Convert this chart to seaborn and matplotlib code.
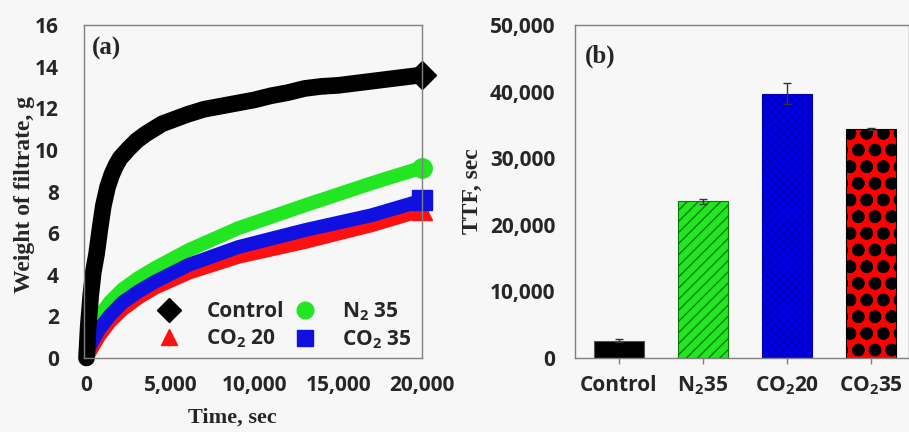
import numpy as np
import pandas as pd
import matplotlib
matplotlib.use("Agg")
import matplotlib.pyplot as plt
import seaborn as sns
from matplotlib.lines import Line2D
from matplotlib.ticker import FuncFormatter

# ---------------- data ----------------
control_t = [0, 100, 250, 400, 600, 800, 1000, 1250, 1500, 1750, 2000, 2500,
             3000, 3500, 4000, 4500, 5000, 6000, 7000, 8000, 9000, 10000,
             11000, 12000, 13000, 14000, 15000, 16000, 17000, 18000, 19000, 20000]
control_w = [0.0, 1.5, 3.0, 4.1, 5.0, 6.2, 7.3, 8.2, 8.8, 9.25, 9.6, 10.05,
             10.45, 10.75, 11.0, 11.25, 11.4, 11.7, 11.95, 12.1, 12.25, 12.4,
             12.6, 12.75, 12.95, 13.05, 13.1, 13.2, 13.3, 13.4, 13.5, 13.6]

n2_t = [0, 350, 750, 1400, 2150, 3100, 4100, 6100, 9050, 13000, 17000, 20000]
n2_w = [0.3, 1.3, 2.0, 2.7, 3.3, 3.85, 4.33, 5.19, 6.24, 7.33, 8.4, 9.15]

co2_20_t = [0, 350, 750, 1400, 2150, 3100, 4100, 6100, 9050, 13000, 17000, 20000]
co2_20_w = [0.0, 0.5, 1.05, 1.75, 2.33, 2.9, 3.38, 4.1, 4.86, 5.57, 6.38, 7.1]

co2_35_t = [0, 350, 750, 1400, 2150, 3100, 4100, 6100, 9050, 13000, 17000, 20000]
co2_35_w = [0.2, 0.8, 1.38, 2.05, 2.67, 3.2, 3.67, 4.48, 5.33, 6.14, 6.86, 7.57]

bar_labels = ["Control", "N$_2$35", "CO$_2$20", "CO$_2$35"]
ttf_values = [2600, 23500, 39700, 34400]
ttf_errors = [250, 400, 1600, 200]

x_ticks_a = [0, 5000, 10000, 15000, 20000]
y_ticks_a = [0, 2, 4, 6, 8, 10, 12, 14, 16]
y_ticks_b = [0, 10000, 20000, 30000, 40000, 50000]

# ---------------- styling ----------------
sns.set_theme(style="white")
bg = "#f7f7f7"
plt.rcParams["font.family"] = ["Open Sans", "DejaVu Sans"]
plt.rcParams["mathtext.fontset"] = "custom"
plt.rcParams["mathtext.rm"] = "Open Sans:bold"
plt.rcParams["mathtext.default"] = "rm"

fig = plt.figure(figsize=(9.09, 4.32), dpi=100, facecolor=bg)
axA = fig.add_axes([84/909, 1-358/432, (422-84)/909, (358-25)/432])
axB = fig.add_axes([575/909, 1-358/432, (909-575)/909, (358-25)/432])
for ax in (axA, axB):
    ax.set_facecolor(bg)
    for s in ax.spines.values():
        s.set_color("#808080")
        s.set_linewidth(1.0)

serif = dict(fontfamily="Liberation Serif", fontweight="bold")

# ---------------- panel (a) ----------------
colors = {"Control": "black", "N$_2$ 35": "#22e622",
          "CO$_2$ 20": "#ff1010", "CO$_2$ 35": "#1010e0"}
markers = {"Control": "D", "N$_2$ 35": "o", "CO$_2$ 20": "^", "CO$_2$ 35": "s"}
frames = []
for name, t, w in [("Control", control_t, control_w),
                   ("CO$_2$ 20", co2_20_t, co2_20_w),
                   ("CO$_2$ 35", co2_35_t, co2_35_w),
                   ("N$_2$ 35", n2_t, n2_w)]:
    frames.append(pd.DataFrame({"time": t, "weight": w, "series": name}))
df = pd.concat(frames, ignore_index=True)

order = ["N$_2$ 35", "CO$_2$ 20", "CO$_2$ 35", "Control"]
for name in order:
    sub = df[df.series == name]
    lw = 12 if name == "Control" else 10
    sns.lineplot(data=sub, x="time", y="weight", ax=axA, color=colors[name],
                 linewidth=lw, sort=False, legend=False, solid_capstyle="round",
                 solid_joinstyle="round", clip_on=False, estimator=None)
    last = sub.iloc[[-1]]
    axA.plot(last.time, last.weight, marker=markers[name], color=colors[name],
             markersize=14, linestyle="none", clip_on=False)

axA.set_xlim(-150, 20000)
axA.set_ylim(0, 16)
axA.set_xticks(x_ticks_a)
axA.set_yticks(y_ticks_a)
axA.xaxis.set_major_formatter(FuncFormatter(lambda v, p: f"{int(v):,}"))
axA.tick_params(axis="both", length=0, labelsize=15)
axA.tick_params(axis="x", pad=12)
axA.tick_params(axis="y", pad=18)
for lab in axA.get_xticklabels() + axA.get_yticklabels():
    lab.set_fontweight("bold")
axA.set_xlabel("Time, sec", fontsize=16, **serif)
axA.xaxis.set_label_coords(0.44, -0.148)
axA.xaxis.label.set_va("top")
axA.set_ylabel("Weight of filtrate, g", fontsize=17, **serif)
axA.yaxis.set_label_coords(-0.145, 0.49)
axA.text(0.024, 0.965, "(a)", transform=axA.transAxes, fontsize=18,
         va="top", ha="left", **serif)

leg_order = ["Control", "CO$_2$ 20", "N$_2$ 35", "CO$_2$ 35"]
handles = [Line2D([], [], marker=markers[n], color=colors[n], linestyle="none",
                  markersize=12) for n in leg_order]
leg = axA.legend(handles, leg_order, ncol=2, loc="lower right", frameon=False,
                 handletextpad=0.8, columnspacing=0.0, labelspacing=0.25,
                 bbox_to_anchor=(1.025, -0.035),
                 prop={"weight": "bold", "size": 15})
leg.set_zorder(10)

# ---------------- panel (b) ----------------
bar_df = pd.DataFrame({"group": bar_labels, "ttf": ttf_values})
bar_colors = ["black", "#22e622", "#0000e6", "#ff0000"]
sns.barplot(data=bar_df, x="group", y="ttf", hue="group", palette=bar_colors,
            ax=axB, width=0.6, legend=False, saturation=1, errorbar=None)
hatches = [None, "///", "xxxx", "o"]
hatch_cols = ["#555555", "#0a7a0a", "#0000a8", "black"]
hatch_lws = [1.0, 1.0, 0.6, 4.3]
for patch, h, hc, hl in zip(axB.patches, hatches, hatch_cols, hatch_lws):
    if h:
        patch.set_hatch(h)
        if hasattr(patch, "set_hatch_linewidth"):
            patch.set_hatch_linewidth(hl)
    patch.set_edgecolor(hc)
    patch.set_linewidth(0.8)
axB.errorbar(range(len(ttf_values)), ttf_values, yerr=ttf_errors, fmt="none",
             ecolor="#333333", elinewidth=1.0, capsize=3, capthick=1.0)
axB.set_xlim(-0.52, 3.45)
axB.set_ylim(0, 50000)
axB.set_yticks(y_ticks_b)
axB.yaxis.set_major_formatter(FuncFormatter(lambda v, p: f"{int(v):,}"))
axB.tick_params(axis="y", length=0, labelsize=15, pad=14)
axB.tick_params(axis="x", length=4, width=1, color="#808080", direction="out",
                bottom=True, labelsize=15, pad=8)
for lab in axB.get_xticklabels() + axB.get_yticklabels():
    lab.set_fontweight("bold")
axB.set_xlabel("")
axB.set_ylabel("TTF, sec", fontsize=17, **serif)
axB.yaxis.set_label_coords(-0.275, 0.5)
axB.text(0.03, 0.94, "(b)", transform=axB.transAxes, fontsize=18,
         va="top", ha="left", **serif)

fig.savefig("out.png", dpi=100, facecolor=bg)
